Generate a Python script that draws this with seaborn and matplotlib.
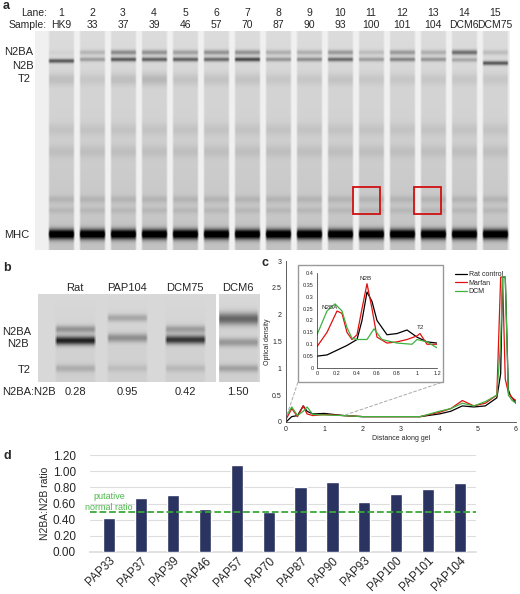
import numpy as np
import pandas as pd
import matplotlib
matplotlib.use("Agg")
import matplotlib.pyplot as plt
import seaborn as sns
from matplotlib.patches import Rectangle

sns.set_theme(style="white")
plt.rcParams['font.family'] = ['Liberation Sans', 'DejaVu Sans']

# ---------------- data ----------------
lane_numbers = [str(i) for i in range(1, 16)]
lane_samples = ["HK9", "33", "37", "39", "46", "57", "70", "87", "90", "93", "100", "101", "104", "DCM6", "DCM75"]
# band intensities per lane (gel a)
n2ba_int = [0.05, 0.25, 0.55, 0.5, 0.4, 0.5, 0.5, 0.3, 0.3, 0.45, 0.2, 0.45, 0.3, 0.75, 0.2]
n2b_int = [0.75, 0.35, 0.75, 0.7, 0.7, 0.65, 0.85, 0.4, 0.45, 0.65, 0.35, 0.5, 0.4, 0.3, 0.75]
n2b_pos = [0.135, 0.128, 0.128, 0.128, 0.128, 0.128, 0.128, 0.128, 0.128, 0.128, 0.128, 0.128, 0.128, 0.13, 0.145]
t2_int = [0.15, 0.1, 0.15, 0.2, 0.12, 0.12, 0.12, 0.1, 0.1, 0.12, 0.1, 0.1, 0.1, 0.1, 0.1]
mhc_int = [1.0] * 15

b_lanes = ["Rat", "PAP104", "DCM75", "DCM6"]
b_ratios = ["0.28", "0.95", "0.42", "1.50"]
b_top_pos = [0.40, 0.27, 0.40, 0.28]
b_top_int = [0.35, 0.25, 0.3, 0.6]
b_low_pos = [0.53, 0.50, 0.52, 0.55]
b_low_int = [0.9, 0.35, 0.8, 0.3]
b_t2_int = [0.15, 0.08, 0.1, 0.2]

inset_x_rat = [0, 0.1, 0.2, 0.3, 0.4, 0.45, 0.5, 0.55, 0.6, 0.7, 0.8, 0.9, 1.0, 1.1, 1.2]
inset_rat = [0.05, 0.055, 0.075, 0.095, 0.12, 0.2, 0.32, 0.28, 0.2, 0.14, 0.145, 0.16, 0.13, 0.11, 0.105]
inset_x_mar = [0, 0.1, 0.2, 0.25, 0.3, 0.35, 0.4, 0.45, 0.5, 0.55, 0.6, 0.7, 0.8, 0.9, 1.0, 1.03, 1.1, 1.2]
inset_mar = [0.09, 0.15, 0.24, 0.23, 0.15, 0.12, 0.14, 0.25, 0.355, 0.25, 0.13, 0.105, 0.11, 0.12, 0.135, 0.145, 0.1, 0.1]
inset_x_dcm = [0, 0.1, 0.18, 0.25, 0.3, 0.35, 0.4, 0.5, 0.57, 0.65, 0.8, 0.95, 1.0, 1.1, 1.2]
inset_dcm = [0.14, 0.24, 0.27, 0.24, 0.17, 0.125, 0.12, 0.12, 0.165, 0.12, 0.105, 0.1, 0.12, 0.11, 0.085]

main_x = [0, 0.15, 0.3, 0.45, 0.55, 0.7, 1.0, 1.5, 2, 3, 3.5, 4, 4.3, 4.6, 4.9, 5.2, 5.5, 5.6, 5.65, 5.72, 5.8, 5.85, 5.9, 6.0]
main_rat = [0.0, 0.1, 0.12, 0.3, 0.2, 0.15, 0.16, 0.12, 0.1, 0.1, 0.1, 0.15, 0.2, 0.3, 0.28, 0.3, 0.45, 0.9, 2.7, 2.7, 0.6, 0.5, 0.45, 0.35]
main_mar = [0.05, 0.25, 0.1, 0.3, 0.15, 0.12, 0.14, 0.12, 0.1, 0.1, 0.1, 0.18, 0.25, 0.4, 0.3, 0.35, 0.5, 2.7, 2.7, 0.8, 0.55, 0.5, 0.45, 0.4]
main_dcm = [0.1, 0.28, 0.12, 0.2, 0.28, 0.14, 0.13, 0.12, 0.1, 0.1, 0.1, 0.2, 0.25, 0.35, 0.3, 0.38, 0.5, 1.5, 2.7, 2.7, 0.5, 0.45, 0.4, 0.35]

d_samples = ["PAP33", "PAP37", "PAP39", "PAP46", "PAP57", "PAP70", "PAP87", "PAP90", "PAP93", "PAP100", "PAP101", "PAP104"]
d_ratios = [0.42, 0.67, 0.70, 0.53, 1.08, 0.49, 0.80, 0.86, 0.62, 0.72, 0.78, 0.85]
normal_ratio = 0.5

# ---------------- figure ----------------
W, H = 520, 594
fig = plt.figure(figsize=(W / 100, H / 100), dpi=100)

def ax_px(l, t, r, b):
    return fig.add_axes([l / W, 1 - b / H, (r - l) / W, (b - t) / H])

def gauss(y, mu, s):
    return np.exp(-0.5 * ((y - mu) / s) ** 2)

# ---- panel a ----
gx0, gx1, gy0, gy1 = 35, 510, 31, 250
nx, ny = gx1 - gx0, gy1 - gy0
yy = np.linspace(0, 1, ny)[:, None]
xx = np.arange(nx)[None, :] + gx0
img = np.full((ny, nx), 0.06)
for i in range(15):
    c = 61 + i * 31
    lane = np.clip((13.5 - np.abs(xx - c)) / 2.0, 0, 1)
    prof = 0.08 + 0.1 * yy
    prof = prof + n2ba_int[i] * 0.55 * gauss(yy, 0.096, 0.008)
    prof = prof + n2b_int[i] * 0.65 * gauss(yy, n2b_pos[i], 0.007)
    prof = prof + t2_int[i] * 0.6 * gauss(yy, 0.22, 0.02)
    prof = prof + 0.05 * gauss(yy, 0.45, 0.02) + 0.06 * gauss(yy, 0.55, 0.02) + 0.08 * gauss(yy, 0.77, 0.012) + 0.06 * gauss(yy, 0.82, 0.01)
    prof = prof + mhc_int[i] * 0.95 * gauss(yy, 0.93, 0.016)
    img = img + lane * prof
axa = ax_px(gx0, gy0, gx1, gy1)
axa.imshow(np.clip(img, 0, 1), cmap="gray_r", vmin=0, vmax=1.0, aspect="auto",
           extent=[gx0, gx1, gy1, gy0], interpolation="bilinear")
axa.set_xlim(gx0, gx1); axa.set_ylim(gy1, gy0); axa.axis("off")
for x0 in (353, 414):
    axa.add_patch(Rectangle((x0, 187), 27, 27, fill=False, ec="#d01010", lw=1.3))
fig.text(3 / W, 1 - 6 / H, "a", fontsize=9, fontweight="bold", va="center")
fig.text(47 / W, 1 - 13 / H, "Lane:", fontsize=7.5, ha="right", va="center")
fig.text(47 / W, 1 - 25 / H, "Sample:", fontsize=7.5, ha="right", va="center")
for i in range(15):
    fig.text((61 + i * 31) / W, 1 - 13 / H, lane_numbers[i], fontsize=7.5, ha="center", va="center")
    fig.text((61 + i * 31) / W, 1 - 25 / H, lane_samples[i], fontsize=7.5, ha="center", va="center")
for lab, x, y in [("N2BA", 4, 52), ("N2B", 12, 66), ("T2", 18, 79), ("MHC", 4, 235)]:
    fig.text(x / W, 1 - y / H, lab, fontsize=8, va="center")

# ---- panel b ----
bx0, bx1, by0, by1 = 38, 260, 294, 382
nx, ny = bx1 - bx0, by1 - by0
yy = np.linspace(0, 1, ny)[:, None]
xx = np.arange(nx)[None, :] + bx0
imgb = np.full((ny, nx), 0.17)
centers = [75, 127, 185, 238]
for i, c in enumerate(centers):
    lane = np.clip((21 - np.abs(xx - c)) / 3.0, 0, 1)
    prof = 0.04 * yy + b_top_int[i] * 0.8 * gauss(yy, b_top_pos[i], 0.05 if i == 3 else 0.03)
    prof = prof + b_low_int[i] * 0.85 * gauss(yy, b_low_pos[i], 0.035)
    prof = prof + b_t2_int[i] * gauss(yy, 0.85, 0.03)
    imgb = imgb + lane * prof
imgb[:, (np.arange(nx) + bx0 >= 216) & (np.arange(nx) + bx0 <= 218)] = 0.0
axb = ax_px(bx0, by0, bx1, by1)
axb.imshow(np.clip(imgb, 0, 1), cmap="gray_r", vmin=0, vmax=1.1, aspect="auto",
           extent=[bx0, bx1, by1, by0], interpolation="bilinear")
axb.axis("off")
fig.text(3 / W, 1 - 268 / H, "b", fontsize=9, fontweight="bold", va="center")
for c, lab, r in zip(centers, b_lanes, b_ratios):
    fig.text(c / W, 1 - 288 / H, lab, fontsize=8, ha="center", va="center")
    fig.text(c / W, 1 - 392 / H, r, fontsize=8, ha="center", va="center")
fig.text(2 / W, 1 - 392 / H, "N2BA:N2B", fontsize=8, va="center")
fig.text(2 / W, 1 - 332 / H, "N2BA", fontsize=8, va="center")
fig.text(7 / W, 1 - 344 / H, "N2B", fontsize=8, va="center")
fig.text(18 / W, 1 - 370 / H, "T2", fontsize=8, va="center")

# ---- panel c ----
axc = ax_px(286, 261, 516, 422)
sns.lineplot(x=main_x, y=main_rat, color="black", lw=0.9, ax=axc)
sns.lineplot(x=main_x, y=main_mar, color="#e01010", lw=0.9, ax=axc)
sns.lineplot(x=main_x, y=main_dcm, color="#40b040", lw=0.9, ax=axc)
axc.set_xlim(0, 6); axc.set_ylim(0, 3)
axc.set_xticks(range(7)); axc.set_yticks([0, 0.5, 1, 1.5, 2, 2.5, 3])
axc.set_yticklabels(["0", "0.5", "1", "1.5", "2", "2.5", "3"])
axc.tick_params(labelsize=5, length=2, pad=1)
axc.set_xlabel("Distance along gel", fontsize=5, labelpad=1)
axc.set_ylabel("Optical density", fontsize=5, labelpad=1)
for s in ("top", "right"):
    axc.spines[s].set_visible(False)
for s in ("left", "bottom"):
    axc.spines[s].set_linewidth(0.6); axc.spines[s].set_color("#444")
fig.text(262 / W, 1 - 263 / H, "c", fontsize=9, fontweight="bold", va="center")
frame = Rectangle((298 / W, 1 - 382 / H), 145 / W, 117 / H, transform=fig.transFigure,
                  fill=True, fc="white", ec="#999", lw=1.0, zorder=0.5)
fig.add_artist(frame)
fig.add_artist(plt.Line2D([287 / W, 298 / W], [1 - 415 / H, 1 - 382 / H], transform=fig.transFigure,
                          color="#aaa", ls="--", lw=0.7, zorder=0.5))
fig.add_artist(plt.Line2D([345 / W, 443 / W], [1 - 415 / H, 1 - 382 / H], transform=fig.transFigure,
                          color="#aaa", ls="--", lw=0.7, zorder=0.5))
axi = ax_px(317, 273, 437, 368)
axi.set_zorder(2)
sns.lineplot(x=inset_x_rat, y=inset_rat, color="black", lw=0.9, ax=axi, label="Rat control")
sns.lineplot(x=inset_x_mar, y=inset_mar, color="#e01010", lw=0.9, ax=axi, label="Marfan")
sns.lineplot(x=inset_x_dcm, y=inset_dcm, color="#40b040", lw=0.9, ax=axi, label="DCM")
axi.set_xlim(0, 1.2); axi.set_ylim(0, 0.4)
axi.set_xticks([0, 0.2, 0.4, 0.6, 0.8, 1, 1.2]); axi.set_xticklabels(["0", "0.2", "0.4", "0.6", "0.8", "1", "1.2"])
axi.set_yticks(np.arange(0, 0.41, 0.05)); axi.set_yticklabels(["0", "0.05", "0.1", "0.15", "0.2", "0.25", "0.3", "0.35", "0.4"])
axi.tick_params(labelsize=4, length=1.5, pad=1)
for s in ("top", "right"):
    axi.spines[s].set_visible(False)
for s in ("left", "bottom"):
    axi.spines[s].set_linewidth(0.5)
axi.text(0.05, 0.25, "N2BA", fontsize=4.5); axi.text(0.42, 0.37, "N2B", fontsize=4.5); axi.text(1.0, 0.165, "T2", fontsize=4.5)
handles, labels = axi.get_legend_handles_labels()
axi.legend_.remove()
fig.legend(handles, labels, loc="upper left", bbox_to_anchor=(452 / W, 1 - 268 / H), fontsize=5,
           frameon=False, handlelength=1.6, labelspacing=0.2, borderpad=0, handletextpad=0.3)

# ---- panel d ----
axd = ax_px(90, 455, 476, 552)
dfd = pd.DataFrame({"sample": d_samples, "ratio": d_ratios})
sns.barplot(data=dfd, x="sample", y="ratio", order=d_samples, color="#2b3360", width=0.38, ax=axd,
            saturation=1, zorder=3)
axd.set_ylim(0, 1.2)
axd.set_yticks(np.arange(0, 1.21, 0.2))
axd.set_yticklabels([f"{v:.2f}" for v in np.arange(0, 1.21, 0.2)])
axd.yaxis.grid(True, color="#dddddd", lw=0.8, zorder=0)
axd.set_axisbelow(True)
for s in ("top", "right", "left"):
    axd.spines[s].set_visible(False)
axd.spines["bottom"].set_color("#dddddd")
axd.tick_params(axis="y", labelsize=8.5, length=0, pad=10)
axd.tick_params(axis="x", labelsize=8.5, length=0, pad=2)
plt.setp(axd.get_xticklabels(), rotation=45, ha="right", rotation_mode="anchor")
axd.set_xlabel("")
axd.set_ylabel("N2BA:N2B ratio", fontsize=7.5, labelpad=2)
axd.axhline(normal_ratio, color="#3aa83a", ls="--", lw=1.3, zorder=4)
axd.set_xlim(-0.6, 11.5)
axd.text(0.0, 0.62, "putative\nnormal ratio", color="#4cb84c", fontsize=6.5, ha="center", va="center")
fig.text(3 / W, 1 - 456 / H, "d", fontsize=9, fontweight="bold", va="center")

fig.savefig("out.png", dpi=100)
